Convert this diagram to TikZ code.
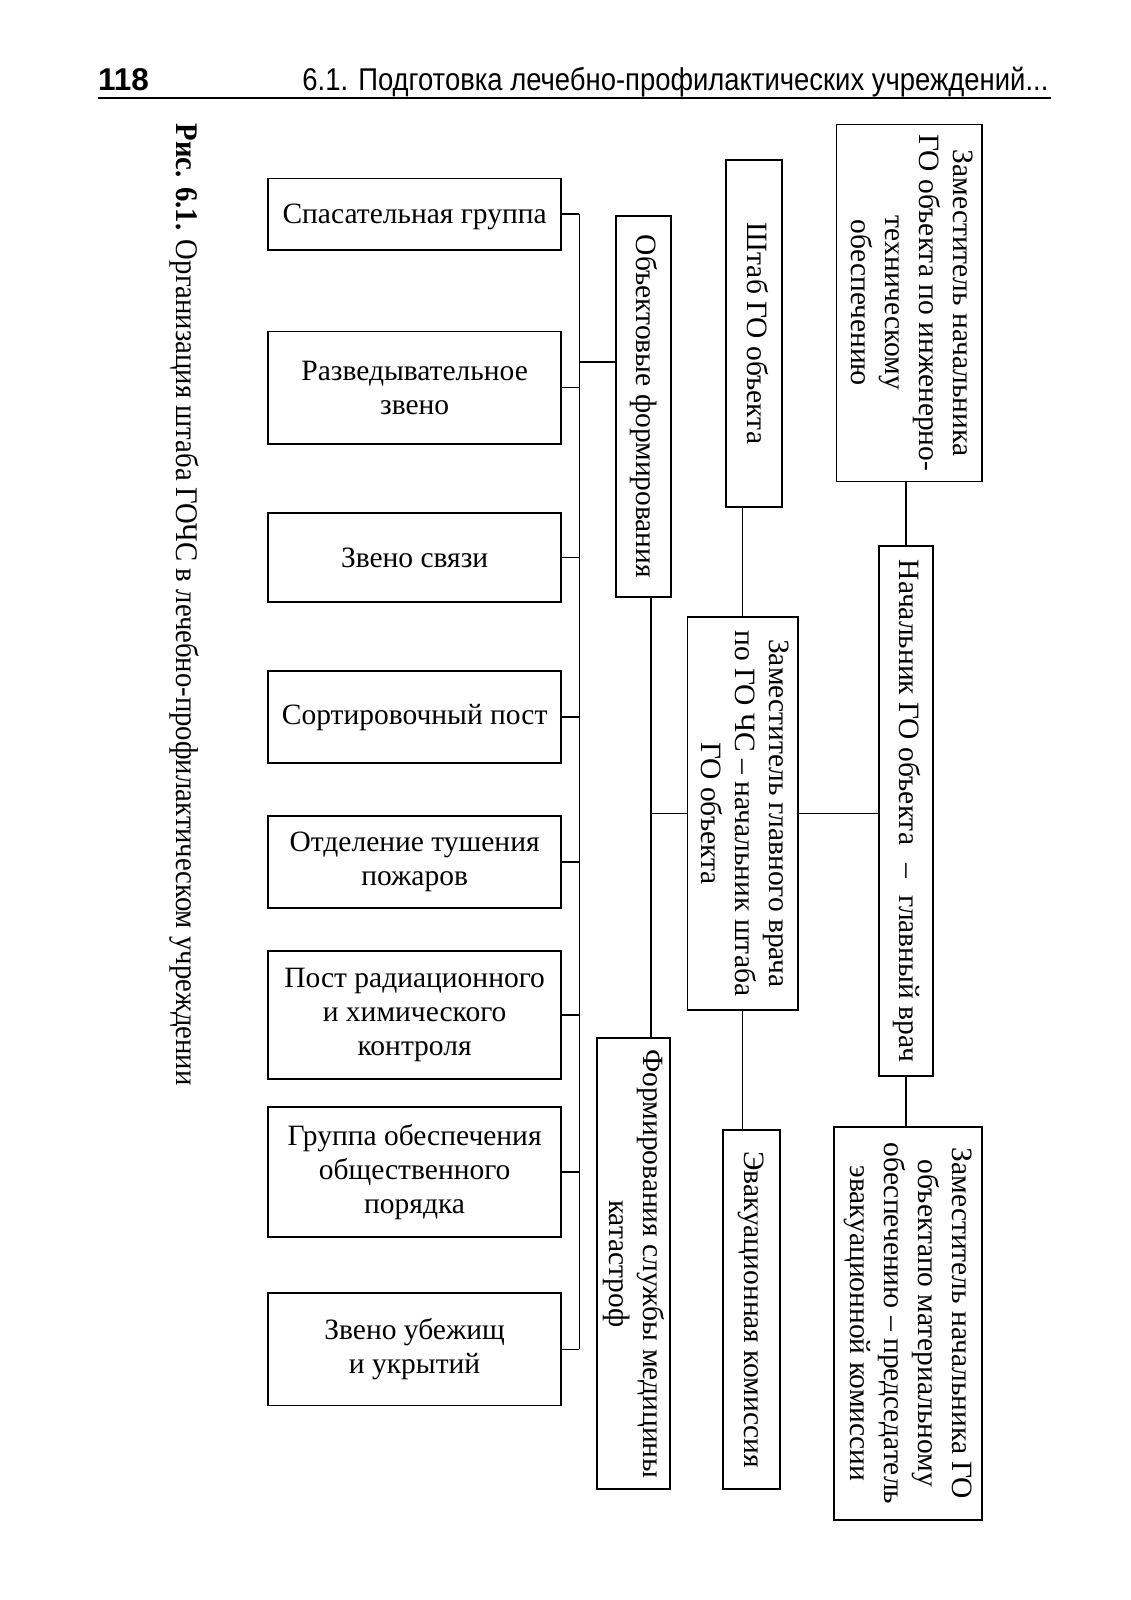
\documentclass[tikz,border=0pt]{standalone}
\usepackage{fontspec}
\setmainfont{Liberation Serif}
\newfontfamily\hdrfont{Liberation Sans}
\newcommand{\rtxt}[1]{\rotatebox{-90}{\begin{tabular}{@{}c@{}}#1\end{tabular}}}
\begin{document}
\begin{tikzpicture}[x=1.02pt,y=-1.02pt,
  font=\fontsize{29.5}{34}\selectfont,
  wh/.style 2 args={minimum width=#1*1.02pt, minimum height=#2*1.02pt},
  box/.style={draw, line width=1.8pt, inner sep=0pt, outer sep=0pt, align=center},
  rbox/.style={draw, line width=1.8pt, inner sep=0pt, outer sep=0pt},
  conn/.style={line width=1.7pt},
  rule/.style={line width=2pt}]
\useasboundingbox (0pt,0pt) rectangle (1131pt,-1600pt);

% header
\node[anchor=base west, inner sep=0pt] (pnum) at (96,89) {\hdrfont\bfseries\fontsize{31.5}{36}\selectfont 118};
\node[anchor=base east, inner sep=0pt] (htitle) at (1028,89) {\resizebox{746pt}{\height}{\hdrfont\fontsize{31.5}{36}\selectfont 6.1. Подготовка лечебно-профилактических учреждений...}};
\coordinate (h1) at (96,96);
\coordinate (h2) at (1030,96);
\draw[rule] (h1) -- (h2);

% caption
\node[rotate=-90, anchor=west, inner sep=0pt] (cap) at (181,121) {\resizebox{962pt}{\height}{\fontsize{31.5}{36}\selectfont\textbf{Рис. 6.1.} Организация штаба ГОЧС в лечебно-профилактическом учреждении}};

% right-hand rotated boxes
\node[rbox, wh={143}{350}] (A) at (891.5,297) {\rtxt{Заместитель начальника\\ГО объекта по инженерно-\\техническому\\обеспечению}};
\node[rbox, wh={55}{340}] (Shtab) at (739.5,327) {\rtxt{Штаб ГО объекта}};
\node[rbox, wh={54}{373}] (Obj) at (631,398.5) {\rtxt{Объектовые формирования}};
\node[rbox, wh={53}{520}] (Nach) at (888.5,795) {\rtxt{Начальник ГО объекта\hspace{0.6em}–\hspace{0.6em}главный врач}};
\node[rbox, wh={108}{385}] (ZamGl) at (728,797.5) {\rtxt{Заместитель главного врача\\по ГО ЧС – начальник штаба\\ГО объекта}};
\node[rbox, wh={72}{442}] (Form) at (621,1239) {\rtxt{Формирования службы медицины\\катастроф}};
\node[rbox, wh={56}{352}] (Evak) at (737,1284) {\rtxt{Эвакуационная комиссия}};
\node[rbox, wh={145}{385}] (ZamMat) at (890.5,1297.5) {\rtxt{Заместитель начальника ГО\\объектапо материальному\\обеспечению – председатель\\эвакуационной комиссии}};

% left column
\node[box, wh={287}{70}, text depth=0pt] (L1) at (406.5,210) {Спасательная группа};
\node[box, wh={287}{110}] (L2) at (406.5,380) {Разведывательное\\звено};
\node[box, wh={287}{87}] (L3) at (406.5,546.5) {Звено связи};
\node[box, wh={287}{90}] (L4) at (406.5,703) {Сортировочный пост};
\node[box, wh={287}{90}] (L5) at (406.5,845) {Отделение тушения\\пожаров};
\node[box, wh={287}{126}] (L6) at (406.5,995) {Пост радиационного\\и химического\\контроля};
\node[box, wh={287}{128}] (L7) at (406.5,1149) {Группа обеспечения\\общественного\\порядка};
\node[box, wh={287}{110}] (L8) at (406.5,1323) {Звено убежищ\\и укрытий};

% connectors
\coordinate (lb) at (568,0);
\coordinate (cb) at (638,0);
\coordinate (oc) at (0,355);
\foreach \n in {L1,L2,L3,L4,L5,L6,L7,L8}{
  \draw[conn] (\n.east) -- (\n.east -| lb);
}
\draw[conn] (L1.east -| lb) -- (L8.east -| lb);
\draw[conn] (Obj.west |- oc) -- (lb |- oc);
\draw[conn] (Obj.south -| cb) -- (Form.north -| cb);
\draw[conn] (ZamGl.west) -- (ZamGl.west -| cb);
\draw[conn] (ZamGl.east) -- (ZamGl.east -| Nach.west);
\draw[conn] (ZamGl.north) -- (ZamGl.north |- Shtab.south);
\draw[conn] (ZamGl.south) -- (ZamGl.south |- Evak.north);
\draw[conn] (Nach.north) -- (Nach.north |- A.south);
\draw[conn] (Nach.south) -- (Nach.south |- ZamMat.north);
\end{tikzpicture}
\end{document}
